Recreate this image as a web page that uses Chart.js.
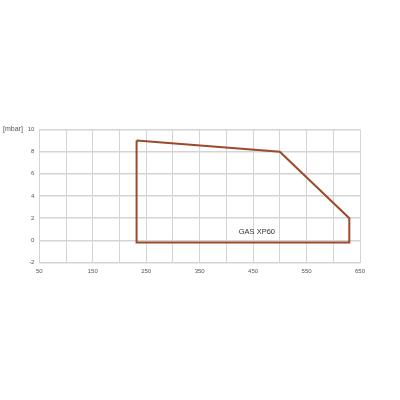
<!DOCTYPE html>
<html><head><meta charset="utf-8">
<script src="https://cdn.jsdelivr.net/npm/chart.js@4/dist/chart.umd.min.js"></script>
<style>html,body{margin:0;padding:0;background:#fff}canvas{display:block}</style>
</head><body>
<canvas id="c" width="400" height="400"></canvas>
<script>
const powerKW = [232, 500, 630, 630, 232, 232];
const pressureMbar = [9, 8, 2, -0.2, -0.2, 9];
const seriesLabel = 'GAS XP60';
const xTicks = [50, 150, 250, 350, 450, 550, 650];
const yTicks = [-2, 0, 2, 4, 6, 8, 10];
const xUnit = '[kW]';
const yUnit = '[mbar]';

const points = powerKW.map((x, i) => ({x, y: pressureMbar[i]}));

const labelsPlugin = {
  id: 'labels',
  afterDraw(chart) {
    const ctx = chart.ctx, xs = chart.scales.x, ys = chart.scales.y;
    ctx.save();
    ctx.fillStyle = '#333';
    ctx.font = '7.5px "Liberation Sans", sans-serif';
    ctx.textBaseline = 'middle';
    ctx.textAlign = 'center';
    ctx.fillText(seriesLabel, xs.getPixelForValue(457), ys.getPixelForValue(0.75));
    ctx.font = '7px "Liberation Sans", sans-serif';
    ctx.fillStyle = '#555';
    ctx.textAlign = 'left';
    ctx.fillText(yUnit, 3, ys.getPixelForValue(10));
    ctx.fillText(xUnit, 377, xs.bottom + 7);
    ctx.restore();
  }
};

new Chart(document.getElementById('c'), {
  type: 'scatter',
  data: {
    datasets: [{
      data: points,
      showLine: true,
      borderColor: '#9c4a2a',
      borderWidth: 2,
      pointRadius: 0,
      fill: false,
      tension: 0
    }]
  },
  options: {
    responsive: false,
    animation: false,
    layout: {padding: {left: 0, top: 129.5, right: 40, bottom: 0}},
    plugins: {legend: {display: false}, tooltip: {enabled: false}},
    scales: {
      x: {
        type: 'linear', min: 50, max: 650,
        afterBuildTicks(s) { s.ticks = []; for (let v = 50; v <= 650; v += 50) s.ticks.push({value: v}); },
        afterFit(s) { s.height = 137.5; },
        grid: {color: '#d4d4d4', lineWidth: 1, drawTicks: false},
        border: {display: false},
        ticks: {
          padding: 5, maxRotation: 0, autoSkip: false,
          color: '#555', font: {size: 6, family: 'Liberation Sans'},
          callback: v => xTicks.includes(v) ? String(v) : ''
        }
      },
      y: {
        type: 'linear', min: -2, max: 10,
        afterBuildTicks(s) { s.ticks = yTicks.map(v => ({value: v})); },
        afterFit(s) { s.width = 39.3; },
        grid: {color: '#d4d4d4', lineWidth: 1.5, drawTicks: false},
        border: {display: false},
        ticks: {padding: 5, color: '#555', font: {size: 6, family: 'Liberation Sans'}}
      }
    }
  },
  plugins: [labelsPlugin]
});
</script>
</body></html>
